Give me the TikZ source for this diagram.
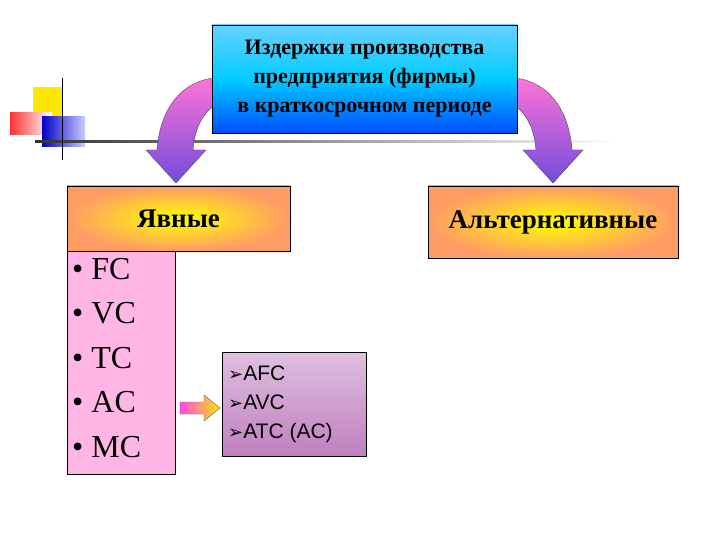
\documentclass[tikz,border=0pt]{standalone}
\usepackage{fontspec}
\setmainfont{Liberation Serif}
\newfontfamily\arialf{Liberation Sans}
\newfontfamily\djv{DejaVu Sans}
\begin{document}
\begin{tikzpicture}[x=1pt,y=-1pt,
 bx/.style={draw=black,line width=0.6pt},
 carr/.style={top color=magenta!40!pink,bottom color=blue!60!violet!70,draw=black!70,line width=0.4pt}]
\useasboundingbox (0,0) rectangle (720,540);
\fill[white] (0,0) rectangle (720,540);
% logo
\fill[yellow!90!orange] (33,87) rectangle (62,118);
\shade[left color=red!80,right color=white] (10,113) rectangle (52,135);
\shade[left color=blue!80!black,right color=blue!20] (42,117) rectangle (85,147);
\shade[left color=black!80,right color=white] (35,141) rectangle (620,143);
\draw[line width=1pt] (62,78) -- (62,160);
% curved arrows
\path[carr] (214,78) .. controls (180,82) and (160,110) .. (157,150) -- (146,150) -- (176,183) -- (206,150) -- (193,150) .. controls (195,125) and (205,112) .. (214,106) -- cycle;
\path[carr] (515,78) .. controls (549,82) and (569,110) .. (572,150) -- (583,150) -- (553,183) -- (523,150) -- (536,150) .. controls (534,125) and (524,112) .. (515,106) -- cycle;
% top box
\node[bx,minimum width=305pt,minimum height=108pt,inner sep=0pt,
 top color=cyan!70!blue!60,bottom color=blue!70!cyan,middle color=cyan!80!blue,
 align=center,font=\bfseries\fontsize{22}{29}\selectfont] (top) at (364.5,79)
 {Издержки производства\\ предприятия (фирмы)\\ в краткосрочном периоде};
% lower-left pink box
\node[bx,fill=pink!70!magenta!60,minimum width=108pt,minimum height=227pt,inner sep=0pt] (list) at (121,360.5) {};
\node[anchor=north west,align=left,font=\fontsize{32}{44.5}\selectfont,inner sep=0pt] (lt) at (72,258)
 {• FC\\ • VC\\ • TC\\ • AC\\ • MC};
\node[bx,inner color=yellow,outer color=orange!70!red!60,minimum width=223pt,minimum height=65pt,inner sep=0pt,
 font=\bfseries\fontsize{27}{30}\selectfont] (expl) at (178.5,218.5) {Явные};
\node[bx,inner color=yellow,outer color=orange!70!red!60,minimum width=250pt,minimum height=72pt,inner sep=0pt,
 font=\bfseries\fontsize{27}{30}\selectfont] (alt) at (553,222) {Альтернативные};
% purple box
\node[bx,top color=violet!25,bottom color=violet!50,minimum width=144pt,minimum height=104pt,inner sep=0pt] (av) at (294,404) {};
\node[anchor=west,align=left,font=\arialf\fontsize{21}{29}\selectfont,inner sep=0pt] at (228,404)
 {{\djv\fontsize{18}{20}\selectfont ➢}AFC\\ {\djv\fontsize{18}{20}\selectfont ➢}AVC\\ {\djv\fontsize{18}{20}\selectfont ➢}ATC (AC)};
% arrow
\coordinate (as) at (180,408);
\path[left color=magenta!60!pink,right color=yellow!80!orange,draw=black!60,line width=0.4pt]
 (as) ++(0,-6) -- ++(24,0) -- ++(0,-7) -- (220,408) -- (204,421) -- ++(0,-7) -- ++(-24,0) -- cycle;
\end{tikzpicture}
\end{document}
